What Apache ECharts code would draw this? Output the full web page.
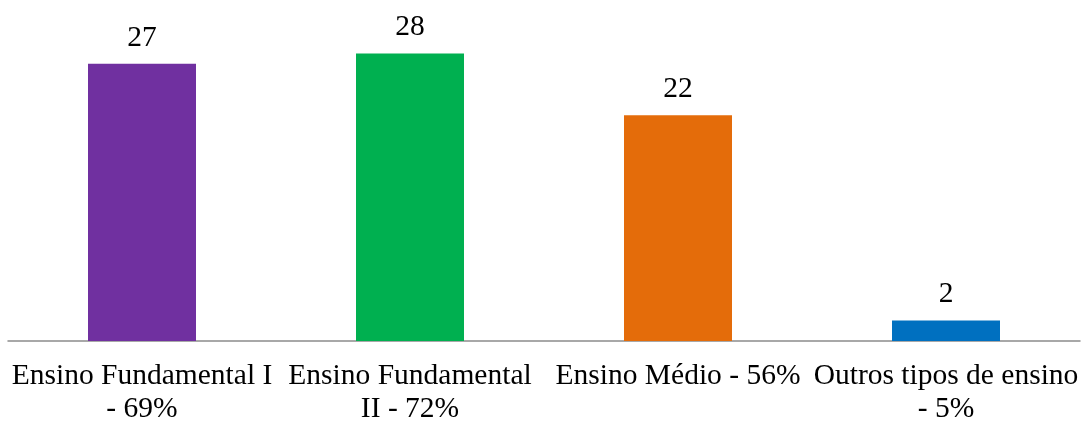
<!DOCTYPE html>
<html>
<head>
<meta charset="utf-8">
<script src="https://cdn.jsdelivr.net/npm/echarts@6/dist/echarts.min.js"></script>
<style>
html,body{margin:0;padding:0;background:#fff;overflow:hidden;}
#chart{width:1083px;height:426px;}
</style>
</head>
<body>
<div id="chart"></div>
<script>
var categories = ['Ensino Fundamental I - 69%', 'Ensino Fundamental II - 72%', 'Ensino Médio - 56%', 'Outros tipos de ensino - 5%'];
var tickLabels = ['Ensino Fundamental I\n- 69%', 'Ensino Fundamental\nII - 72%', 'Ensino Médio - 56%', 'Outros tipos de ensino\n- 5%'];
var values = [27, 28, 22, 2];
var colors = ['#7030A0', '#00B050', '#E46C0A', '#0070C0'];

var chart = echarts.init(document.getElementById('chart'), null, {renderer: 'canvas'});
chart.setOption({
  animation: false,
  backgroundColor: '#ffffff',
  grid: {left: 8, right: 3, top: 33, bottom: 80, containLabel: false},
  xAxis: {
    type: 'category',
    data: categories,
    axisLine: {show: true, lineStyle: {color: '#8c8c8c', width: 1.5}},
    axisTick: {show: false},
    axisLabel: {
      interval: 0,
      margin: 19,
      fontFamily: 'Liberation Serif',
      fontSize: 29.5,
      lineHeight: 33,
      color: '#000',
      align: 'center',
      formatter: function (v, i) { return tickLabels[i]; }
    }
  },
  yAxis: {
    type: 'value',
    min: 0,
    max: 30,
    show: false,
    splitLine: {show: false}
  },
  series: [{
    type: 'bar',
    barWidth: 108,
    data: values.map(function (v, i) { return {value: v, itemStyle: {color: colors[i]}}; }),
    label: {
      show: true,
      position: 'top',
      distance: 11,
      fontFamily: 'Liberation Serif',
      fontSize: 29.5,
      color: '#000'
    }
  }]
});
</script>
</body>
</html>
